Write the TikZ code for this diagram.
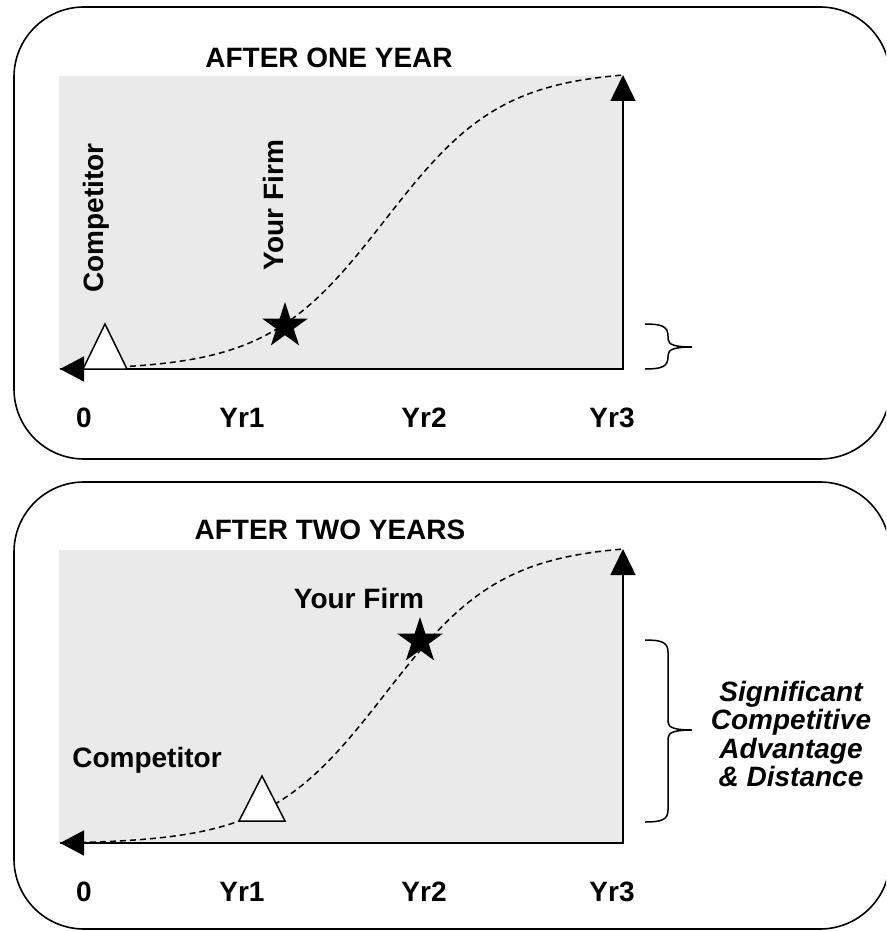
\documentclass[tikz,border=0pt]{standalone}
\usepackage{fontspec}
\setmainfont{Liberation Sans}
\usetikzlibrary{arrows.meta,shapes.geometric,calc}

\definecolor{panelgray}{RGB}{234,234,234}

\tikzset{
  panelbox/.style={draw=black, line width=1.6pt, rounded corners=70pt},
  axisline/.style={line width=1.6pt,
    {Triangle[length=24pt,width=25pt]}-{Triangle[length=26pt,width=25pt]}},
  growth/.style={line width=1.5pt, dash pattern=on 6pt off 4pt},
  txt/.style={font=\bfseries\fontsize{28}{28.5}\selectfont, inner sep=0pt, outer sep=0pt},
  basetxt/.style={txt, anchor=base},
  firmstar/.style={star, star points=5, star point ratio=2.618, minimum size=48pt,
    inner sep=0pt, outer sep=0pt, fill=black},
  rivalmark/.style={draw=black, fill=white, line width=1.5pt, line join=miter},
  bracepath/.style={line width=1.5pt},
  declare function={
    sg(\x)=1/(1+exp(-0.017*(\x-385)));
    grow(\x)=(sg(\x)-sg(60))/(sg(623)-sg(60));
  }
}

% Shared chart: shaded area, S-curve and the two axes with year labels.
% #1 name prefix, #2 vertical offset
\newcommand\growthchart[2]{%
  \begin{scope}[shift={(0,#2)}, name prefix=#1-]
    \fill[panelgray] (59,76) rectangle (623,369);
    \coordinate (origin) at (623,369);
    \coordinate (xtip) at (60,369);
    \coordinate (ytip) at (623,75);
    \draw[growth] plot[domain=60:623, samples=140] (\x, {369-294*grow(\x)});
    \draw[axisline] (xtip) -- (origin) -- (ytip);
    \node[basetxt] (yr0) at (84,427) {0};
    \node[basetxt] (yr1) at (242,427) {Yr1};
    \node[basetxt] (yr2) at (424,427) {Yr2};
    \node[basetxt] (yr3) at (612,427) {Yr3};
  \end{scope}}

% Curly brace opening to the left: #1 top y, #2 tip y, #3 bottom y
\newcommand\sidebrace[3]{%
  \draw[bracepath] (645,#1) .. controls (661,#1) and (668,#1+2) .. (668,#1+12)
    -- (668,#2-8) .. controls (668,#2-2) and (676,#2) .. (692,#2)
    (692,#2) .. controls (676,#2) and (668,#2+2) .. (668,#2+8)
    -- (668,#3-12) .. controls (668,#3-2) and (661,#3) .. (645,#3);}

\begin{document}
\begin{tikzpicture}[x=1pt, y=-1pt]
  \useasboundingbox (0,0) rectangle (886,931);
  \clip (0,0) rectangle (886,931);

  % ---------- first panel ----------
  \draw[panelbox] (14,7) rectangle (890,459);
  \node[basetxt] (title1) at (329,68) {AFTER ONE YEAR};
  \growthchart{one}{0}
  \coordinate (rival1) at (105,369);
  \draw[rivalmark] ($(rival1)+(-22,0)$) -- ($(rival1)+(0,-45)$) -- ($(rival1)+(22,0)$) -- cycle;
  \node[firmstar] (firm1) at (285,326) {};
  \node[basetxt, rotate=90] (rivallabel1) at (103,218) {Competitor};
  \node[basetxt, rotate=90] (firmlabel1) at (283,205) {Your Firm};
  \sidebrace{324}{347}{369}

  % ---------- second panel ----------
  \draw[panelbox] (14,482) rectangle (890,929);
  \node[basetxt] (title2) at (330,539) {AFTER TWO YEARS};
  \growthchart{two}{474}
  \coordinate (rival2) at (262,821);
  \draw[rivalmark] ($(rival2)+(-23,0)$) -- ($(rival2)+(0,-45)$) -- ($(rival2)+(23,0)$) -- cycle;
  \node[firmstar] (firm2) at (420,641) {};
  \node[basetxt] (firmlabel2) at (359,608) {Your Firm};
  \node[basetxt] (rivallabel2) at (147,767) {Competitor};
  \sidebrace{640}{730}{822}
  \node[txt, font=\bfseries\itshape\fontsize{28}{28.5}\selectfont, align=center]
    (gap) at (791,734) {Significant\\Competitive\\Advantage\\\& Distance};
\end{tikzpicture}
\end{document}
